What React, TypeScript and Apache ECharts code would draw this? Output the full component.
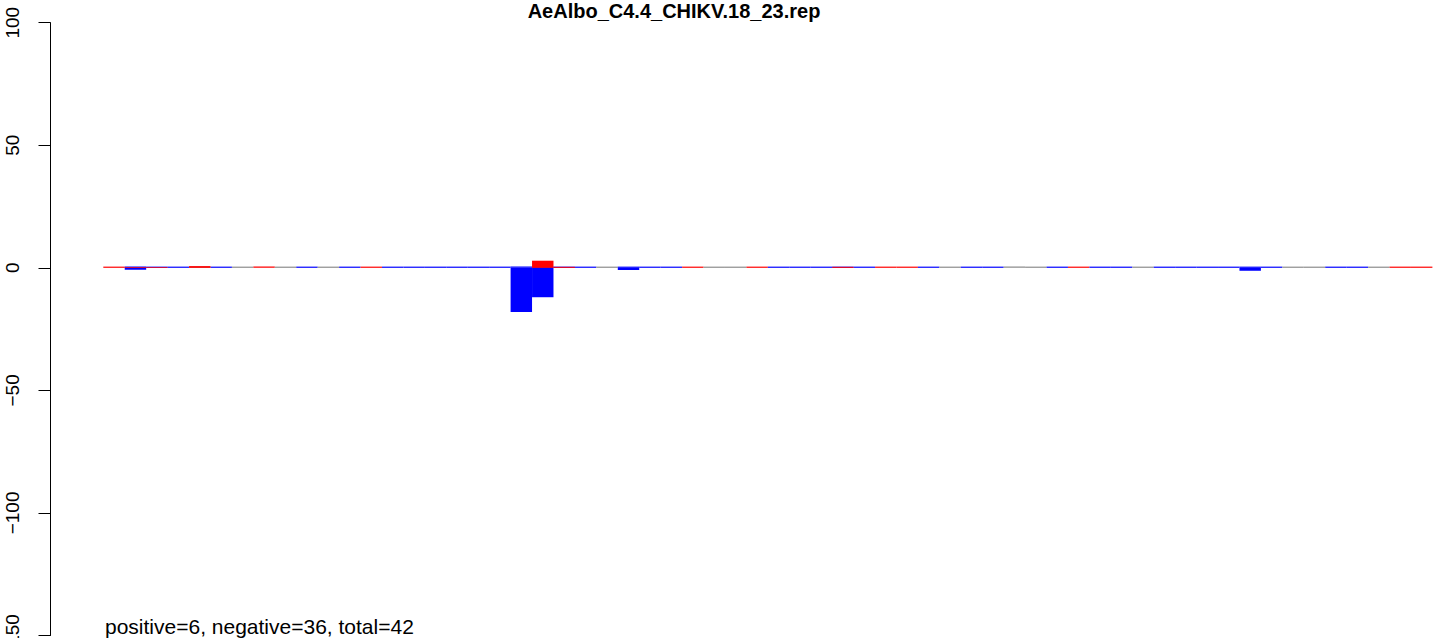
import React, { useEffect, useRef } from 'react';
import * as echarts from 'echarts';

// 62 bins along the x axis
const slotLabels = [
  '1', '2', '3', '4', '5', '6', '7', '8', '9', '10',
  '11', '12', '13', '14', '15', '16', '17', '18', '19', '20',
  '21', '22', '23', '24', '25', '26', '27', '28', '29', '30',
  '31', '32', '33', '34', '35', '36', '37', '38', '39', '40',
  '41', '42', '43', '44', '45', '46', '47', '48', '49', '50',
  '51', '52', '53', '54', '55', '56', '57', '58', '59', '60',
  '61', '62',
];

// state of each bin drawn at zero: R = red, B = blue, G = grey
const baseState = [
  'R', 'B', 'B', 'B', 'G', 'B', 'G', 'R', 'G', 'B',
  'G', 'B', 'R', 'B', 'B', 'B', 'B', 'B', 'B', 'B',
  'B', 'B', 'B', 'G', 'B', 'B', 'B', 'R', 'G', 'G',
  'R', 'B', 'B', 'B', 'B', 'B', 'R', 'R', 'B', 'G',
  'B', 'B', 'G', 'G', 'B', 'R', 'B', 'B', 'G', 'B',
  'B', 'B', 'B', 'B', 'B', 'G', 'G', 'B', 'B', 'G',
  'R', 'R',
];

// [bin index, value]
const positiveBars: [number, number][] = [
  [1, 0.3], [2, 0.3], [4, 0.7], [20, 2.9], [21, 0.4], [34, 0.4],
];
const negativeBars: [number, number][] = [
  [1, -0.8], [19, -18], [20, -12], [24, -0.9], [53, -1.2],
];

const yMin = -150;
const yMax = 100;
const yStep = 50;

const titleText = 'AeAlbo_C4.4_CHIKV.18_23.rep';
const summaryText = 'positive=6, negative=36, total=42';

const RED = '#FF0000';
const BLUE = '#0000FF';
const GREY = '#8C8C8C';
const stateColor: Record<string, string> = { R: RED, B: BLUE, G: GREY };

const FONT = '"Liberation Sans", Arial, Helvetica, sans-serif';

export default function App() {
  const ref = useRef<HTMLDivElement>(null);
  useEffect(() => {
    if (!ref.current) return;
    const chart = echarts.init(ref.current, null, { renderer: 'svg' });
    const option: any = {
      animation: false,
      backgroundColor: '#FFFFFF',
      grid: {
        left: 103.3,
        right: 0.6,
        top: 22.7,
        bottom: 2.5,
        containLabel: false,
        outerBoundsMode: 'none',
      },
      xAxis: {
        type: 'category',
        data: slotLabels,
        show: false,
        boundaryGap: true,
      },
      yAxis: {
        type: 'value',
        min: yMin,
        max: yMax,
        interval: yStep,
        offset: 52.8,
        splitLine: { show: false },
        axisLine: { show: true, lineStyle: { color: '#000', width: 1 } },
        axisTick: { show: true, length: 12, lineStyle: { color: '#000', width: 1 } },
        axisLabel: {
          rotate: 90,
          margin: 29,
          fontSize: 19,
          fontFamily: FONT,
          color: '#000',
          hideOverlap: false,
          formatter: (v: number) => String(v).replace('-', '\u2212'),
        },
      },
      series: [
        {
          name: 'state',
          type: 'bar',
          barGap: '-100%',
          barCategoryGap: '0%',
          barMinHeight: 1.2,
          z: 1,
          data: baseState.map((s) => ({ value: 0, itemStyle: { color: stateColor[s] } })),
        },
        {
          name: 'negative',
          type: 'bar',
          barGap: '-100%',
          barCategoryGap: '0%',
          z: 2,
          itemStyle: { color: BLUE },
          data: negativeBars,
        },
        {
          name: 'positive',
          type: 'bar',
          barGap: '-100%',
          barCategoryGap: '0%',
          z: 3,
          itemStyle: { color: RED },
          data: positiveBars,
        },
      ],
      graphic: [
        {
          type: 'text',
          x: 674,
          y: 11,
          style: {
            text: titleText,
            font: `bold 20px ${FONT}`,
            fill: '#000',
            textAlign: 'center',
            textVerticalAlign: 'middle',
          },
        },
        {
          type: 'text',
          x: 105,
          y: 626,
          style: {
            text: summaryText,
            font: `21px ${FONT}`,
            fill: '#000',
            textAlign: 'left',
            textVerticalAlign: 'middle',
          },
        },
      ],
    };
    chart.setOption(option);
    return () => chart.dispose();
  }, []);
  return (
    <div
      ref={ref}
      style={{ position: 'absolute', left: 0, top: 0, width: '1433px', height: '638px' }}
    />
  );
}
